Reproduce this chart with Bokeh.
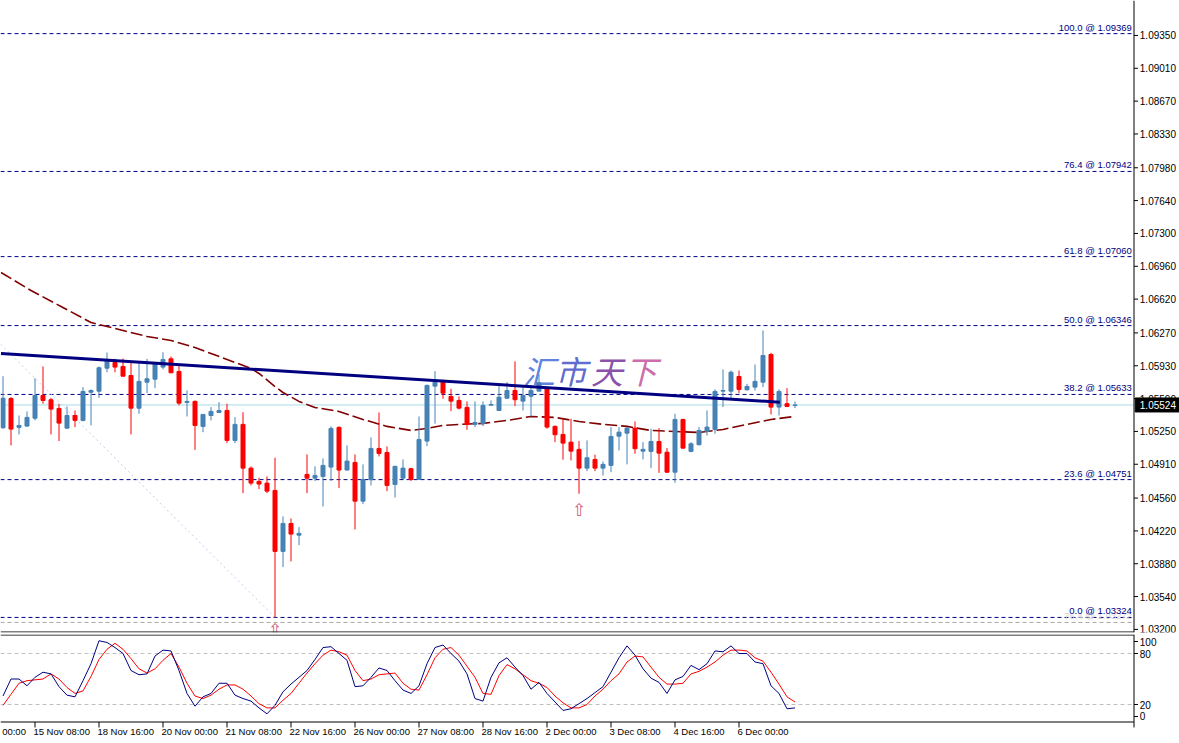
from bokeh.plotting import figure
from bokeh.models import Range1d, ColumnDataSource
from bokeh.layouts import column
from bokeh.core.properties import value
from bokeh.embed import file_html
from bokeh.resources import INLINE

# ---------------- data (EURUSD H4) ----------------
opens = [
1.05288, 1.05591, 1.05292, 1.05305, 1.05387, 1.05622, 1.05578, 1.05488, 1.05284, 1.05415,
1.05364, 1.05656, 1.05667, 1.05905, 1.05964, 1.05923, 1.05829, 1.05491, 1.05760, 1.05791,
1.05916, 1.06002, 1.05871, 1.05550, 1.05561, 1.05302, 1.05415, 1.05446, 1.05467, 1.05157,
1.05323, 1.04870, 1.04733, 1.04715, 1.04639, 1.04008, 1.04297, 1.04176, 1.04805, 1.04766,
1.04784, 1.04881, 1.05292, 1.04850, 1.04929, 1.04528, 1.04750, 1.05074, 1.05032, 1.04701,
1.04766, 1.04864, 1.04753, 1.05150, 1.05719, 1.05771, 1.05612, 1.05571, 1.05499, 1.05323,
1.05330, 1.05522, 1.05467, 1.05594, 1.05674, 1.05564, 1.05615, 1.05667, 1.05692, 1.05302,
1.05219, 1.05139, 1.05064, 1.04870, 1.04960, 1.04870, 1.04898, 1.05201, 1.05232, 1.05284,
1.05046, 1.05043, 1.05146, 1.05035, 1.04828, 1.05374, 1.05043, 1.05112, 1.05250, 1.05270,
1.05667, 1.05667, 1.05819, 1.05681, 1.05709, 1.05760, 1.06047, 1.05502, 1.05537, 1.05519]
highs = [
1.05822, 1.05605, 1.05415, 1.05457, 1.05801, 1.05923, 1.05598, 1.05537, 1.05509, 1.05467,
1.05709, 1.05685, 1.05923, 1.06067, 1.06002, 1.06005, 1.05967, 1.05967, 1.06002, 1.05967,
1.06070, 1.06026, 1.05933, 1.05674, 1.05571, 1.05426, 1.05502, 1.05553, 1.05537, 1.05398,
1.05449, 1.04888, 1.04770, 1.04784, 1.04977, 1.04370, 1.04349, 1.04259, 1.05012, 1.04888,
1.04970, 1.05302, 1.05302, 1.05105, 1.05012, 1.04909, 1.05188, 1.05446, 1.05095, 1.04895,
1.04960, 1.04874, 1.05405, 1.05736, 1.05874, 1.05785, 1.05692, 1.05612, 1.05561, 1.05561,
1.05561, 1.05571, 1.05726, 1.05760, 1.05975, 1.05726, 1.05726, 1.05840, 1.05700, 1.05312,
1.05381, 1.05381, 1.05150, 1.05157, 1.05009, 1.04940, 1.05295, 1.05295, 1.05295, 1.05353,
1.05139, 1.05278, 1.05284, 1.05077, 1.05433, 1.05381, 1.05139, 1.05295, 1.05467, 1.05685,
1.05892, 1.05881, 1.05881, 1.05743, 1.05943, 1.06295, 1.06064, 1.05685, 1.05698, 1.05561]
lows = [
1.05278, 1.05105, 1.05219, 1.05300, 1.05364, 1.05537, 1.05219, 1.05150, 1.05280, 1.05295,
1.05354, 1.05312, 1.05598, 1.05863, 1.05863, 1.05819, 1.05219, 1.05433, 1.05646, 1.05698,
1.05892, 1.05857, 1.05519, 1.05405, 1.05059, 1.05242, 1.05364, 1.05446, 1.05129, 1.05129,
1.04611, 1.04691, 1.04653, 1.04611, 1.03324, 1.03845, 1.03904, 1.04072, 1.04611, 1.04736,
1.04473, 1.04736, 1.04663, 1.04850, 1.04235, 1.04497, 1.04691, 1.04991, 1.04632, 1.04566,
1.04760, 1.04736, 1.04750, 1.05098, 1.05330, 1.05588, 1.05460, 1.05478, 1.05267, 1.05295,
1.05305, 1.05515, 1.05467, 1.05588, 1.05512, 1.05467, 1.05405, 1.05667, 1.05278, 1.05139,
1.04957, 1.04950, 1.04605, 1.04839, 1.04839, 1.04794, 1.04828, 1.05053, 1.04909, 1.05019,
1.04960, 1.04870, 1.04822, 1.04820, 1.04718, 1.05070, 1.05035, 1.05105, 1.05208, 1.05226,
1.05502, 1.05594, 1.05646, 1.05674, 1.05674, 1.05709, 1.05426, 1.05415, 1.05502, 1.05491]
closes = [
1.05594, 1.05274, 1.05312, 1.05395, 1.05622, 1.05571, 1.05481, 1.05336, 1.05415, 1.05364,
1.05664, 1.05674, 1.05909, 1.05985, 1.05916, 1.05822, 1.05491, 1.05768, 1.05795, 1.05957,
1.05995, 1.05857, 1.05543, 1.05561, 1.05312, 1.05426, 1.05457, 1.05467, 1.05157, 1.05323,
1.04870, 1.04715, 1.04705, 1.04632, 1.04008, 1.04297, 1.04187, 1.04194, 1.04766, 1.04794,
1.04898, 1.05281, 1.04850, 1.04943, 1.04528, 1.04753, 1.05074, 1.05022, 1.04691, 1.04888,
1.04870, 1.04753, 1.05167, 1.05726, 1.05760, 1.05646, 1.05564, 1.05491, 1.05323, 1.05343,
1.05519, 1.05529, 1.05605, 1.05674, 1.05578, 1.05622, 1.05674, 1.05754, 1.05295, 1.05216,
1.05129, 1.05046, 1.04870, 1.04977, 1.04870, 1.04909, 1.05198, 1.05242, 1.05284, 1.05071,
1.05064, 1.05146, 1.05025, 1.04828, 1.05374, 1.05077, 1.05122, 1.05260, 1.05295, 1.05664,
1.05674, 1.05863, 1.05685, 1.05716, 1.05768, 1.06036, 1.05502, 1.05664, 1.05509, 1.05524]

# moving average (read at selected bars)
ma_idx = [-0.25, 3.5, 7.25, 11, 15, 18, 21, 24, 26, 29, 31, 32, 34, 35, 37, 39, 42, 45, 48, 51,
          53, 55, 57, 60, 63, 66, 69, 72, 75, 78, 81, 84, 87, 90, 93, 96, 99]
ma_val = [1.06896, 1.06709, 1.06544, 1.06378, 1.06295, 1.06233, 1.06192, 1.06119, 1.06057, 1.05964,
          1.05902, 1.05850, 1.05715, 1.05653, 1.05561, 1.05498, 1.05457, 1.05374, 1.05302, 1.05260,
          1.05281, 1.05312, 1.05323, 1.05333, 1.05364, 1.05405, 1.05395, 1.05353, 1.05323, 1.05302,
          1.05260, 1.05250, 1.05239, 1.05270, 1.05323, 1.05374, 1.05405]

# trend line end points
trend_idx = [-0.25, 97.1]
trend_val = [1.06057, 1.05553]

# fibonacci levels
fib_levels = [100.0, 76.4, 61.8, 50.0, 38.2, 23.6, 0.0]
fib_prices = [1.09369, 1.07942, 1.07060, 1.06346, 1.05633, 1.04751, 1.03324]
fib_base_idx = [-39.25, 34]
fib_base_val = [1.09369, 1.03324]
ghost_price = 1.03272
ghost_label = "76.4 @ 1.03272"
current_price = 1.05524

price_ticks = [1.09350, 1.09010, 1.08670, 1.08330, 1.07980, 1.07640, 1.07300, 1.06960, 1.06620,
               1.06270, 1.05930, 1.05590, 1.05250, 1.04910, 1.04560, 1.04220, 1.03880, 1.03540, 1.03200]

# stochastic oscillator
stoch_k = [30, 50, 50, 42, 52, 58, 56, 41, 31, 29, 48, 68, 95, 93, 87, 80, 60, 55, 56, 77,
           84, 83, 60, 33, 18, 29, 33, 45, 45, 31, 27, 24, 16, 9, 19, 35, 44, 52, 60, 73,
           87, 88, 80, 72, 41, 42, 52, 63, 60, 48, 37, 33, 42, 68, 87, 90, 80, 71, 56, 27,
           24, 52, 69, 75, 64, 54, 38, 46, 33, 23, 13, 15, 21, 27, 34, 41, 58, 75, 89, 78,
           62, 51, 46, 33, 49, 53, 66, 61, 68, 83, 82, 89, 80, 80, 70, 68, 42, 33, 15, 16]
stoch_d = [19, 32, 45, 48, 49, 50, 56, 50, 40, 33, 36, 53, 73, 85, 92, 85, 74, 62, 57, 62,
           72, 80, 64, 45, 30, 27, 31, 38, 43, 43, 38, 30, 21, 16, 16, 25, 33, 45, 57, 68,
           78, 84, 82, 78, 60, 48, 50, 55, 56, 57, 45, 38, 37, 55, 75, 85, 87, 78, 65, 52,
           33, 32, 54, 67, 62, 55, 48, 45, 40, 30, 22, 16, 16, 20, 30, 38, 48, 56, 70, 77,
           76, 64, 52, 44, 44, 45, 56, 59, 64, 70, 78, 84, 84, 83, 75, 71, 58, 44, 29, 23]
stoch_levels = [80, 20]
stoch_tick_pos = [94.1, 80, 20, 5.9]
stoch_tick_labels = ["100", "80", "20", "0"]

tick_idx = [-4, 4, 12, 20, 28, 36, 44, 52, 60, 68, 76, 84, 92]
tick_labels = ["14 Nov 00:00", "15 Nov 08:00", "18 Nov 16:00", "20 Nov 00:00", "21 Nov 08:00",
               "22 Nov 16:00", "26 Nov 00:00", "27 Nov 08:00", "28 Nov 16:00", "2 Dec 00:00",
               "3 Dec 08:00", "4 Dec 16:00", "6 Dec 00:00"]

# ---------------- styling / geometry ----------------
BLUE = "#4682B4"
RED = "#FF0000"
NAVY = "#000080"
FONT = value("Liberation Sans")
FS = "9.5px"
X_LEFT = -0.3125          # left frame edge in bar units (8 px per bar)
X_RIGHT = 147.0625        # right frame edge
X_AXIS = 141.375          # price-scale line
X_TICK = 141.875
X_LABEL = 142.1
X_FIBTXT = 141.1

idx = list(range(len(opens)))
colors = [BLUE if c >= o else RED for o, c in zip(opens, closes)]
src = ColumnDataSource(dict(
    x=idx, o=opens, h=highs, l=lows, c=closes,
    top=[max(o, c) for o, c in zip(opens, closes)],
    bot=[min(o, c) for o, c in zip(opens, closes)],
    color=colors))

xr = Range1d(X_LEFT, X_RIGHT)
PR_LO, PR_HI = 1.03168, 1.09712
px_price = (PR_HI - PR_LO) / 632.0

main = figure(frame_width=1179, frame_height=632, x_range=xr, y_range=Range1d(PR_LO, PR_HI),
              y_axis_location=None, x_axis_location=None, output_backend="svg",
              toolbar_location=None, min_border_left=0, min_border_top=0, min_border_bottom=2,
              min_border_right=0, background_fill_color="white", border_fill_color="white")
main.outline_line_color = None
main.grid.visible = False

nf = len(fib_prices)
# fib dashed lines
main.segment(x0=[X_LEFT] * nf, y0=fib_prices, x1=[X_AXIS] * nf, y1=fib_prices,
             line_color=NAVY, line_width=1, line_dash="4 3")
main.segment(x0=[X_LEFT], y0=[ghost_price], x1=[X_AXIS], y1=[ghost_price],
             line_color="#A8A8A8", line_width=1, line_dash="4 3")
main.text(x=[X_FIBTXT], y=[ghost_price], text=[ghost_label], text_align="right", text_baseline="bottom",
          text_font=FONT, text_font_size=FS, text_color="#D4D4D4", y_offset=-1)
main.text(x=[X_FIBTXT] * nf, y=fib_prices,
          text=[f"{lv:.1f} @ {pr:.5f}" for lv, pr in zip(fib_levels, fib_prices)],
          text_align="right", text_baseline="bottom", text_font=FONT, text_font_size=FS,
          text_color=NAVY, y_offset=-1)

# fib base dotted line
main.line(fib_base_idx, fib_base_val, line_color="#C8C8F0", line_width=1, line_dash="2 3")
# current price line
main.segment(x0=[X_LEFT], y0=[current_price], x1=[X_AXIS], y1=[current_price],
             line_color="#A8DCE6", line_width=1)

# watermark
wm_chars = ["汇", "市", "天", "下"]
wm_x = [67.0, 71.0, 75.5, 79.75]
wm_colors = ["#4A72DC", "#4B58C8", "#7A3A9E", "#C45AA0"]
for ch, xx, cc in zip(wm_chars, wm_x, wm_colors):
    main.text(x=[xx], y=[1.05881], text=[ch], text_align="center", text_baseline="middle",
              text_font=value("Noto Sans CJK SC"), text_font_size="32px", text_font_style="italic",
              text_color=cc, text_alpha=0.9)

# moving average
main.line(ma_idx, ma_val, line_color="#800000", line_width=1.6, line_dash="12 4")

# candles
main.segment(x0="x", y0="l", x1="x", y1="h", color="color", line_width=1, source=src)
main.vbar(x="x", width=0.5, top="top", bottom="bot", fill_color="color", line_color="color",
          line_width=1, source=src)

# trend line
main.line(trend_idx, trend_val, line_color=NAVY, line_width=3)

# arrows
main.text(x=[72, 34], y=[1.04432, 1.03189], text=["⇧", "⇧"], text_align="center", text_baseline="middle",
          text_font=value("DejaVu Sans"), text_font_size="17px", text_color="#D0607A")

# price scale (right)
nt = len(price_ticks)
main.segment(x0=[X_AXIS], y0=[PR_LO], x1=[X_AXIS], y1=[PR_HI], line_color="black", line_width=1)
main.segment(x0=[X_LEFT], y0=[PR_LO + 0.5 * px_price], x1=[X_AXIS], y1=[PR_LO + 0.5 * px_price],
             line_color="black", line_width=1)
main.segment(x0=[X_AXIS] * nt, y0=price_ticks, x1=[X_TICK] * nt, y1=price_ticks,
             line_color="black", line_width=1)
main.text(x=[X_LABEL] * nt, y=price_ticks, text=[f"{t:.5f}" for t in price_ticks],
          text_align="left", text_baseline="middle", text_font=FONT, text_font_size="10px",
          text_color="black")
# current price tag
main.rect(x=[(X_AXIS + X_RIGHT) / 2 + 0.05], y=[current_price], width=X_RIGHT - X_AXIS - 0.2,
          height=14 * px_price, fill_color="black", line_color="black")
main.text(x=[X_LABEL], y=[current_price], text=[f"{current_price:.5f}"], text_align="left",
          text_baseline="middle", text_font=FONT, text_font_size="10px", text_color="white")

# ---------------- stochastic panel ----------------
S_PX = 0.85                      # px per stochastic unit
S_HI = 87.0 / S_PX               # frame top (px 634)
S_LO = S_HI - 109.0 / S_PX       # frame bottom (px 743)
st = figure(frame_width=1179, frame_height=109, x_range=xr, y_range=Range1d(S_LO, S_HI),
            y_axis_location=None, x_axis_location=None, output_backend="svg",
            toolbar_location=None, min_border_left=0, min_border_top=0, min_border_bottom=0,
            min_border_right=0, background_fill_color="white", border_fill_color="white")
st.outline_line_color = None
st.grid.visible = False
st.segment(x0=[X_LEFT] * 2, y0=stoch_levels, x1=[X_AXIS] * 2, y1=stoch_levels,
           line_color="#C0C0C0", line_width=1, line_dash="4 3")
top_b = S_HI - 0.5 / S_PX
bot_b = -0.5 / S_PX
st.segment(x0=[X_LEFT, X_LEFT], y0=[top_b, bot_b], x1=[X_AXIS, X_AXIS], y1=[top_b, bot_b],
           line_color="black", line_width=1)
st.line(idx, stoch_d, line_color=RED, line_width=1)
st.line(idx, stoch_k, line_color=NAVY, line_width=1)

# right scale
st.segment(x0=[X_AXIS], y0=[S_HI], x1=[X_AXIS], y1=[-7.0], line_color="black", line_width=1)
ns = len(stoch_tick_pos)
st.segment(x0=[X_AXIS] * ns, y0=stoch_tick_pos, x1=[X_TICK] * ns, y1=stoch_tick_pos,
           line_color="black", line_width=1)
st.text(x=[X_LABEL] * ns, y=stoch_tick_pos, text=stoch_tick_labels, text_align="left",
        text_baseline="middle", text_font=FONT, text_font_size="10px", text_color="black")

# time scale
ntk = len(tick_idx)
st.segment(x0=tick_idx, y0=[bot_b] * ntk, x1=tick_idx, y1=[-7.0] * ntk, line_color="black", line_width=1)
st.text(x=[t - 0.2 for t in tick_idx], y=[-11.8] * ntk, text=tick_labels, text_align="left",
        text_baseline="middle", text_font=FONT, text_font_size=FS, text_color="black")

layout = column(main, st, spacing=0)
open("out.html", "w").write(file_html(layout, INLINE))
